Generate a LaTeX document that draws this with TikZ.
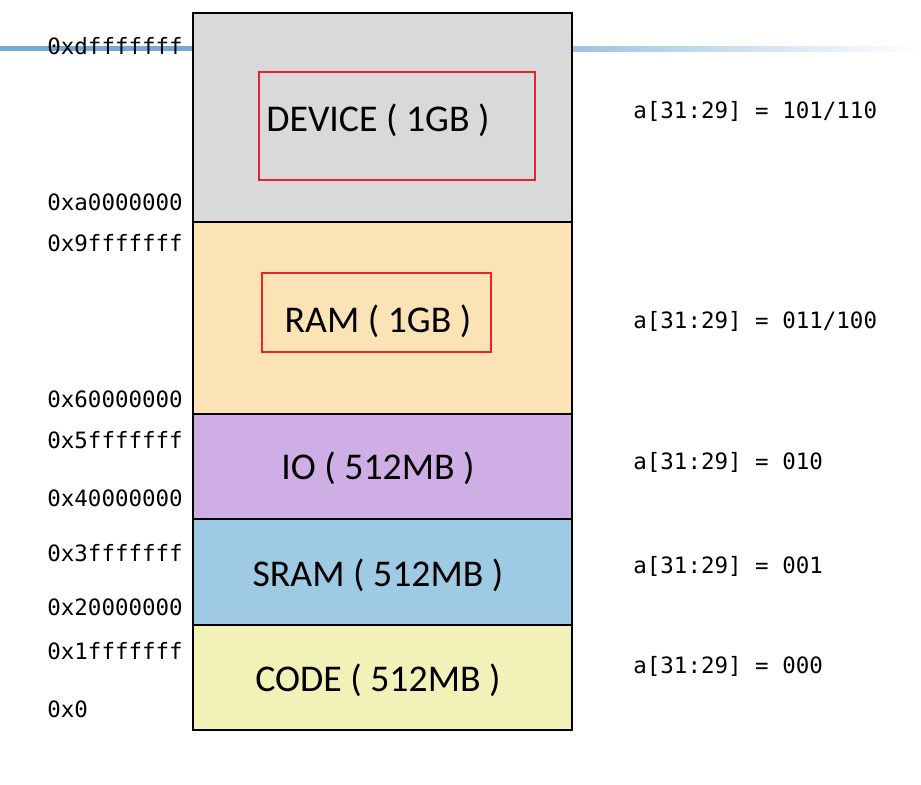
\documentclass[tikz,border=0pt]{standalone}
\usepackage{fontspec}
\setmainfont{Carlito}
\setmonofont{DejaVu Sans Mono}
\definecolor{devgray}{HTML}{D9D9D9}
\definecolor{ramtan}{HTML}{FBE3B6}
\definecolor{iopurple}{HTML}{CFAEE6}
\definecolor{srblue}{HTML}{9FCAE3}
\definecolor{codeyel}{HTML}{F2F2B8}
\definecolor{hlred}{HTML}{E0262B}
\definecolor{deco}{HTML}{74A9D6}
\usetikzlibrary{positioning}
\tikzstyle{region}=[draw=black, line width=.85pt, inner sep=0pt, minimum width=379*0.02cm]
\tikzstyle{hlbox}=[draw=hlred, line width=1.2pt, inner sep=0pt]
\tikzstyle{addr}=[anchor=west, inner sep=0pt, font=\fontsize{12.8}{14}\ttfamily]
\tikzstyle{bits}=[anchor=west, inner sep=0pt, font=\fontsize{12.8}{14}\ttfamily]
\tikzstyle{regname}=[inner sep=0pt, font=\fontsize{21.5}{24}\selectfont]

\begin{document}
\begin{tikzpicture}[x=0.02cm, y=-0.02cm]
      \useasboundingbox (0,0) rectangle (921,785);

      % decorative line
      \fill[deco] (0,46) rectangle (193,51);
      \shade[left color=deco!70, right color=white] (572,46) rectangle (921,51);

      % regions
      \node[region, fill=devgray, minimum height=209*0.02cm] (dev) at (382.5,117.5) {};
      \node[region, fill=ramtan, minimum height=192*0.02cm] (ram) at (382.5,318) {};
      \node[region, fill=iopurple, minimum height=105*0.02cm] (io) at (382.5,466.5) {};
      \node[region, fill=srblue, minimum height=106*0.02cm] (sram) at (382.5,572) {};
      \node[region, fill=codeyel, minimum height=105*0.02cm] (code) at (382.5,677.5) {};

      \node[hlbox, minimum width=276*0.02cm, minimum height=108*0.02cm] (devbox) at (397,126) {};
      \node[hlbox, minimum width=229*0.02cm, minimum height=79*0.02cm] (rambox) at (376.5,312.5) {};

      {
      \node[regname] (devname) at (378,120) {DEVICE ( 1GB )};
      \node[regname] (ramname) at (378,321) {RAM ( 1GB )};
      \node[regname] (ioname) at (378,468) {IO ( 512MB )};
      \node[regname] (sramname) at (378,575) {SRAM ( 512MB )};
      \node[regname] (codename) at (378,680) {CODE ( 512MB )};
      }

      % addresses
      \foreach \a/\y in {0xdfffffff/46, 0xa0000000/202, 0x9fffffff/243,
                         0x60000000/399, 0x5fffffff/440, 0x40000000/498,
                         0x3fffffff/553, 0x20000000/607, 0x1fffffff/651, 0x0/709}
        \node[addr] (a\a) at (47,\y) {\a};

      % decode bits
      \foreach \b/\y in {{101/110}/111, {011/100}/321, 010/462, 001/566, 000/666}
        \node[bits] at (633,\y) {a[31:29] = \b};

    \end{tikzpicture}
\end{document}
